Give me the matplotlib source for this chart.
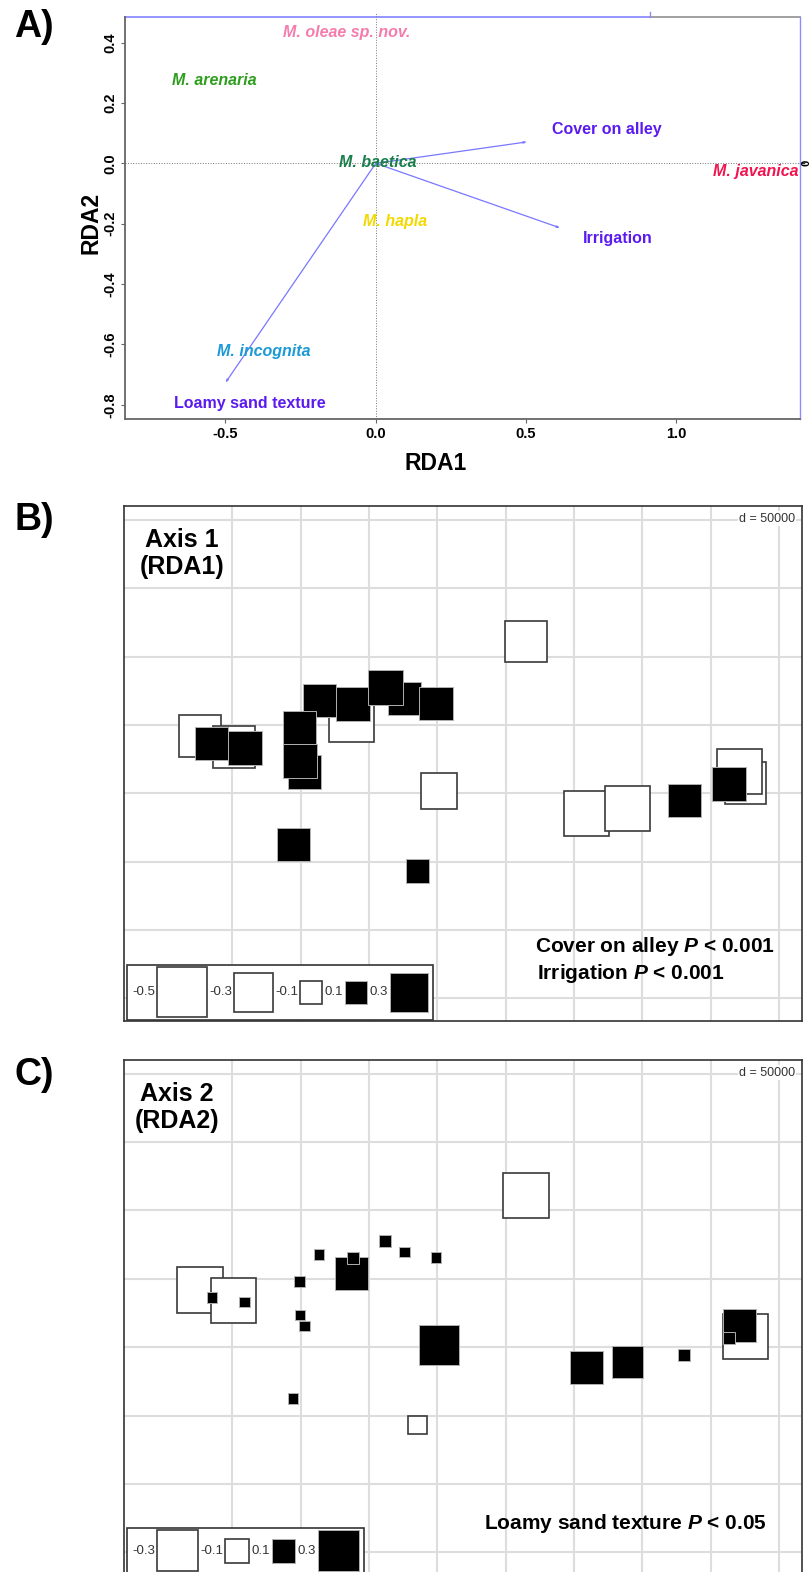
import numpy as np
import matplotlib.pyplot as plt
from matplotlib.patches import Rectangle

plt.rcParams['font.family'] = ['Liberation Sans', 'DejaVu Sans']
plt.rcParams['mathtext.fontset'] = 'custom'
plt.rcParams['mathtext.it'] = 'Liberation Sans:italic:bold'
plt.rcParams['mathtext.rm'] = 'Liberation Sans:bold'

# ---- panel A: RDA biplot ----
species = ['M. oleae sp. nov.', 'M. arenaria', 'M. baetica', 'M. hapla', 'M. incognita', 'M. javanica']
sp_x = [-0.096, -0.537, 0.007, 0.065, -0.372, 1.265]
sp_y = [0.432, 0.276, 0.004, -0.192, -0.624, -0.026]
sp_colors = ['#F47DAD', '#2E9E1E', '#1A7F4B', '#F2D900', '#1B9AD6', '#F0144F']

env_vars = ['Cover on alley', 'Irrigation', 'Loamy sand texture']
env_x = [0.503, 0.613, -0.500]
env_y = [0.071, -0.214, -0.727]
env_lab_x = [0.770, 0.806, -0.418]
env_lab_y = [0.113, -0.250, -0.797]

# ---- panels B and C: site maps (grid unit = 50000) ----
site_x = [-0.47, 0.02, -0.30, 0.18, 1.74, 1.27, 0.98, 1.06, 0.99, 1.77, 2.52, 2.24,
          2.98, 3.02, 0.89, 2.71, 4.30, 5.18, 5.78, 6.61, 7.51, 7.42, 7.27]
site_y = [2.84, 2.68, 2.73, 2.66, 3.08, 3.36, 2.96, 2.31, 2.47, 3.30, 3.39, 3.55,
          3.31, 2.03, 1.25, 0.86, 4.22, 1.70, 1.78, 1.89, 2.15, 2.32, 2.14]
rda1 = [-0.35, -0.35, 0.22, 0.23, -0.41, 0.22, 0.22, 0.22, 0.23, 0.23, 0.22, 0.24,
        0.22, -0.26, 0.22, 0.11, -0.35, -0.41, -0.41, 0.22, -0.34, -0.41, 0.23]
rda2 = [-0.38, -0.36, 0.02, 0.02, 0.19, 0.02, 0.024, 0.02, 0.02, 0.026, 0.02, 0.026,
        0.02, 0.28, 0.02, -0.06, -0.37, 0.19, 0.18, 0.024, -0.36, 0.19, 0.026]
leg_b = [-0.5, -0.3, -0.1, 0.1, 0.3]
leg_c = [-0.3, -0.1, 0.1, 0.3]

fig = plt.figure(figsize=(8.1, 15.72), dpi=100)

axA = fig.add_axes([0.1547, 0.7335, 0.8330, 0.2559])
axA.set_xlim(-0.833, 1.411)
axA.set_ylim(-0.847, 0.486)
blue = '#8C8CFF'
for s in ['left', 'bottom']:
    axA.spines[s].set_color('#666666')
    axA.spines[s].set_linewidth(1.3)
axA.spines['right'].set_color(blue)
axA.spines['right'].set_linewidth(1.0)
axA.spines['top'].set_visible(False)
axA.plot([0, 0.7777], [1, 1], color=blue, lw=1.3, transform=axA.transAxes, clip_on=False)
axA.plot([0.7777, 1], [1, 1], color='#999999', lw=1.3, transform=axA.transAxes, clip_on=False)
axA.plot([0.7777, 0.7777], [1, 1.012], color=blue, lw=1.0, transform=axA.transAxes, clip_on=False)

axA.plot([0, 0], [-0.847, 0.5015], color='#777777', lw=0.7, ls=':', clip_on=False)
axA.plot([-0.833, 1.425], [0, 0], color='#777777', lw=0.7, ls=':', clip_on=False)
axA.plot([1.411, 1.424], [0, 0], color='#333333', lw=1.0, clip_on=False)
axA.text(1.4335, 0, '0', rotation=90, ha='center', va='center', fontsize=8,
         fontweight='bold', clip_on=False)

for ex, ey in zip(env_x, env_y):
    axA.annotate('', xy=(ex, ey), xytext=(0, 0),
                 arrowprops=dict(arrowstyle='-|>,head_length=0.15,head_width=0.05',
                                 color='#7878FF', lw=0.9, shrinkA=0, shrinkB=0))
for name, lx, ly in zip(env_vars, env_lab_x, env_lab_y):
    axA.text(lx, ly, name, color='#5B1AF0', fontsize=11.5, fontweight='bold',
             ha='center', va='center')
for name, x, y, c in zip(species, sp_x, sp_y, sp_colors):
    axA.text(x, y, name, color=c, fontsize=11.5, fontweight='bold', style='italic',
             ha='center', va='center')

axA.set_xticks([-0.5, 0.0, 0.5, 1.0])
axA.set_xticklabels(['-0.5', '0.0', '0.5', '1.0'])
axA.set_yticks([-0.8, -0.6, -0.4, -0.2, 0.0, 0.2, 0.4])
axA.set_yticklabels(['-0.8', '-0.6', '-0.4', '-0.2', '0.0', '0.2', '0.4'], rotation=90, va='center')
axA.tick_params(length=3, color='#666666', labelsize=10.5, pad=3)
for t in axA.get_xticklabels() + axA.get_yticklabels():
    t.set_fontweight('bold')
fig.text(435.5 / 810, 1 - 463 / 1572, 'RDA1', fontsize=16.5, fontweight='bold', ha='center', va='center')
fig.text(90.7 / 810, 1 - 223 / 1572, 'RDA2', fontsize=16.5, fontweight='bold', rotation=90,
         ha='center', va='center')


def site_panel(ax, vals, k, legvals, title, title_x, notes):
    ax.set_xlim(-1.592, 8.335)
    ax.set_ylim(-1.333, 6.195)
    ax.set_xticks([])
    ax.set_yticks([])
    for s in ax.spines.values():
        s.set_color('#333333')
        s.set_linewidth(1.2)
    for g in range(0, 9):
        ax.axvline(g, color='#dddddd', lw=1.5, zorder=0)
    for g in range(-1, 7):
        ax.axhline(g, color='#dddddd', lw=1.5, zorder=0)

    for x, y, v in zip(site_x, site_y, vals):
        side = k * np.sqrt(abs(v))
        if v < 0:
            ax.add_patch(Rectangle((x - side / 2, y - side / 2), side, side, fc='white',
                                   ec='#3a3a3a', lw=1.2, zorder=2))
        else:
            ax.add_patch(Rectangle((x - side / 2, y - side / 2), side, side, fc='black',
                                   ec='#b0b0b0', lw=0.7, zorder=2))

    # size legend in the lower left corner
    r = fig.canvas.get_renderer()
    px = 68.35
    smax = max(k * np.sqrt(abs(v)) for v in legvals)
    y0 = ax.get_ylim()[0] + 0.012
    ymid = y0 + 0.04 + smax / 2
    box_left = ax.get_xlim()[0] + 0.056
    x = box_left + 0.079
    items = []
    for v in legvals:
        t = ax.text(x, ymid, f'{v:g}', fontsize=9.5, color='#333333', ha='left', va='center', zorder=6)
        w = t.get_window_extent(renderer=r).width / px
        x += w + 0.025
        side = k * np.sqrt(abs(v))
        items.append((x, side, v))
        x += side + 0.034
    box_w = x - 0.034 + 0.073 - box_left
    ax.add_patch(Rectangle((box_left, y0), box_w, smax + 0.08, fc='white', ec='#333333',
                           lw=1.2, zorder=4))
    for lx, side, v in items:
        if v < 0:
            ax.add_patch(Rectangle((lx, ymid - side / 2), side, side, fc='white', ec='#3a3a3a',
                                   lw=1.2, zorder=5))
        else:
            ax.add_patch(Rectangle((lx, ymid - side / 2), side, side, fc='black', ec='#b0b0b0',
                                   lw=0.7, zorder=5))

    ax.text(0.9897, 0.976, 'd = 50000', transform=ax.transAxes, fontsize=9, color='#333333',
            ha='right', va='center', bbox=dict(fc='white', ec='none', pad=1.0), zorder=6)
    ax.text(title_x, 0.908, title, transform=ax.transAxes, fontsize=18, fontweight='bold',
            ha='center', va='center', linespacing=1.15, zorder=6)
    for txt, nx, ny in notes:
        ax.text(nx, ny, txt, transform=ax.transAxes, fontsize=15, fontweight='bold',
                ha='left', va='center', zorder=6)


axB = fig.add_axes([0.1525, 0.3505, 0.8377, 0.3273])
site_panel(axB, rda1, 70.7 / 68.35, leg_b, 'Axis 1\n(RDA1)', 0.086,
           [('Cover on alley $P$ < 0.001', 0.6065, 0.1444),
            ('Irrigation $P$ < 0.001', 0.6094, 0.0933)])

axC = fig.add_axes([0.1525, -0.0019, 0.8377, 0.3273])
site_panel(axC, rda2, 75 / 68.35, leg_c, 'Axis 2\n(RDA2)', 0.0789,
           [('Loamy sand texture $P$ < 0.05', 0.531, 0.101)])

fig.text(34 / 810, 1 - 27 / 1572, 'A)', fontsize=27, fontweight='bold', ha='center', va='center')
fig.text(34 / 810, 1 - 520 / 1572, 'B)', fontsize=27, fontweight='bold', ha='center', va='center')
fig.text(34 / 810, 1 - 1075 / 1572, 'C)', fontsize=27, fontweight='bold', ha='center', va='center')

fig.savefig('out.png', dpi=100)
